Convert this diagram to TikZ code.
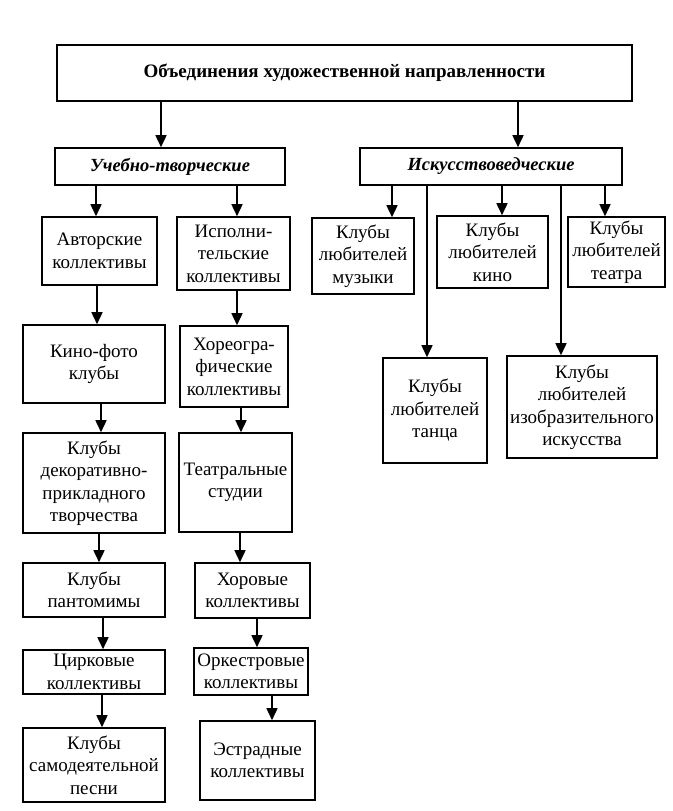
\documentclass[tikz,border=0pt]{standalone}
\usepackage{fontspec}
\setmainfont{Liberation Serif}
\usetikzlibrary{arrows.meta}
\tikzset{
  bx/.style={draw, line width=1.6pt, inner sep=0pt, align=center,
    font=\fontsize{19}{22.5}\selectfont},
  arr/.style={line width=1.6pt, -{Triangle[length=12pt,width=11pt]}},
}
\newcommand\myarr[3]{\coordinate (tmpx) at (#1,0);
  \draw[arr] (#2.south -| tmpx) -- (#3.north -| tmpx);}
\newcommand\mybox[6]{\node[bx, minimum width=#4pt, minimum height=#5pt] (#1) at (#2,#3) {#6};}
\begin{document}
\begin{tikzpicture}[x=1pt,y=-1pt]
\useasboundingbox (0,0) rectangle (672,811);
\fill[white] (0,0) rectangle (672,811);
\mybox{top}{344.5}{73}{575}{56}{\fontsize{19}{22}\selectfont\bfseries Объединения художественной направленности}
\mybox{ucheb}{170}{166.5}{230}{37}{\fontsize{18.5}{22}\selectfont\bfseries\itshape Учебно-творческие}
\mybox{isk}{491}{166.5}{262}{37}{\fontsize{18.5}{22}\selectfont\bfseries\itshape Искусствоведческие}
\mybox{avt}{99.5}{251}{115}{68}{Авторские\\коллективы}
\mybox{isp}{233.5}{253.5}{113}{73}{Исполни-\\тельские\\коллективы}
\mybox{muz}{363}{256}{102}{76}{Клубы\\любителей\\музыки}
\mybox{kino}{492.5}{252}{111}{72}{Клубы\\любителей\\кино}
\mybox{teatra}{616.5}{252}{97}{70}{Клубы\\любителей\\театра}
\mybox{kf}{94}{364}{142}{78}{Кино-фото\\клубы}
\mybox{hor}{234}{366.5}{108}{81}{Хореогра-\\фические\\коллективы}
\mybox{tanca}{435}{410.5}{104}{105}{Клубы\\любителей\\танца}
\mybox{izo}{582}{407}{150}{102}{Клубы\\любителей\\изобразительного\\искусства}
\mybox{dek}{94}{483}{142}{100}{Клубы\\декоративно-\\прикладного\\творчества}
\mybox{teatr}{235.5}{482.5}{113}{99}{Театральные\\студии}
\mybox{pant}{94}{590}{142}{54}{Клубы\\пантомимы}
\mybox{horov}{252.5}{590.5}{115}{55}{Хоровые\\коллективы}
\mybox{cirk}{94}{672}{142}{44}{Цирковые\\коллективы}
\mybox{orkestr}{251}{671.5}{114}{47}{Оркестровые\\коллективы}
\mybox{pesni}{94}{765}{142}{74}{Клубы\\самодеятельной\\песни}
\mybox{estr}{257.5}{760.5}{115}{79}{Эстрадные\\коллективы}
\myarr{161}{top}{ucheb}
\myarr{518}{top}{isk}
\myarr{96}{ucheb}{avt}
\myarr{237}{ucheb}{isp}
\myarr{392}{isk}{muz}
\myarr{427}{isk}{tanca}
\myarr{502}{isk}{kino}
\myarr{561}{isk}{izo}
\myarr{605}{isk}{teatra}
\myarr{97}{avt}{kf}
\myarr{101}{kf}{dek}
\myarr{99}{dek}{pant}
\myarr{103}{pant}{cirk}
\myarr{102}{cirk}{pesni}
\myarr{237}{isp}{hor}
\myarr{241}{hor}{teatr}
\myarr{240}{teatr}{horov}
\myarr{257}{horov}{orkestr}
\myarr{272}{orkestr}{estr}
\end{tikzpicture}
\end{document}
